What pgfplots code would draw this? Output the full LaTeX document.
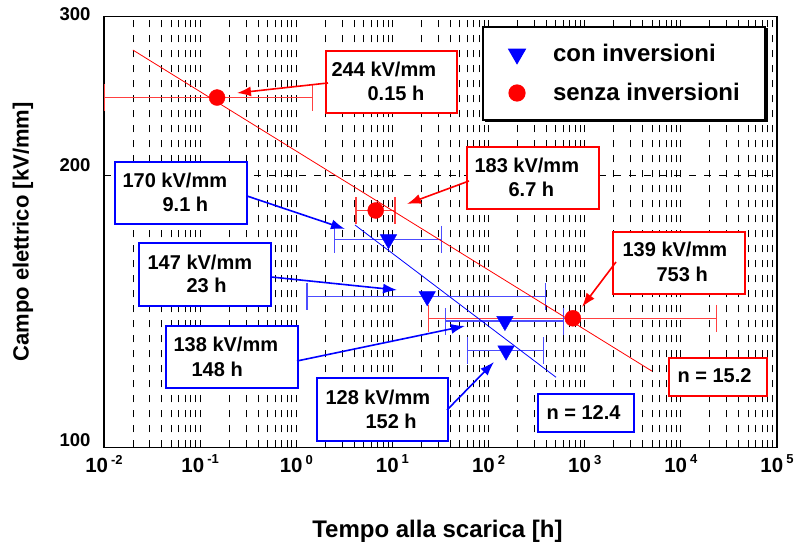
\documentclass[border=0pt]{standalone}
\usepackage{fontspec}
\setmainfont{Liberation Sans}
\usepackage{pgfplots}
\pgfplotsset{compat=1.18}
\usetikzlibrary{arrows.meta}
\newcommand{\boxfont}{\fontsize{20}{24}\selectfont\bfseries}
\newcommand{\legfont}{\fontsize{24}{28}\selectfont\bfseries}
\newcommand{\xtickfont}{\fontsize{20.5}{24}\selectfont\bfseries}
\newcommand{\ytickfont}{\fontsize{18.5}{22}\selectfont\bfseries}
\newcommand{\xlabfont}{\fontsize{24}{28}\selectfont\bfseries}
\newcommand{\ylabfont}{\fontsize{22}{26}\selectfont\bfseries}
\newcommand{\tl}[1]{10\hspace{3pt}\raisebox{8.5pt}{\fontsize{13}{15}\selectfont #1}}
\newcommand{\abox}[5]{\node[draw=#5, fill=white, line width=1.2pt, minimum width=#3, minimum height=#4, inner sep=0pt, anchor=center] (#1) at (rel axis cs:#2) {};}
\newcommand{\atext}[4]{\node[anchor=base west, inner sep=0pt, font=\boxfont] at ([xshift=#2, yshift=-#3]#1.north west) {#4};}
\newcommand{\aarrow}[3]{\draw[#1, line width=1.6pt, -{Latex[length=14pt,width=10pt]}] (rel axis cs:#2) -- (rel axis cs:#3);}
\begin{document}
\begin{tikzpicture}
\useasboundingbox (0,0) rectangle (795pt,542pt);
\begin{axis}[
  at={(104pt,94.5pt)}, anchor=south west,
  width=673pt, height=431pt, scale only axis,
  xmode=log, ymode=log,
  xmin=1e-2, xmax=1e5, ymin=100, ymax=300,
  xtick={1e-2,1e-1,1,10,100,1000,10000,100000},
  xticklabels={\tl{-2},\tl{-1},\tl{0},\tl{1},\tl{2},\tl{3},\tl{4},\tl{5}},
  minor xtick={0.02,0.03,0.04,0.05,0.06,0.07,0.08,0.09,
               0.2,0.3,0.4,0.5,0.6,0.7,0.8,0.9,
               2,3,4,5,6,7,8,9,
               20,30,40,50,60,70,80,90,
               200,300,400,500,600,700,800,900,
               2000,3000,4000,5000,6000,7000,8000,9000,
               20000,30000,40000,50000,60000,70000,80000,90000},
  ytick={100,200,300},
  yticklabels={\raisebox{14pt}{100},\raisebox{22pt}{200},\raisebox{5pt}{300}},
  yminorticks=false,
  xmajorgrids, xminorgrids, ymajorgrids,
  major grid style={black, line width=0.8pt, dash pattern=on 7pt off 8pt},
  minor grid style={black, line width=0.8pt, dash pattern=on 7pt off 8pt},
  axis line style={line width=1.5pt},
  tick style={black, line width=0.8pt},
  tick align=inside, tick pos=left,
  major tick length=6pt, minor tick length=4pt,
  xticklabel style={font=\xtickfont, yshift=-4pt},
  yticklabel style={font=\ytickfont, anchor=east, xshift=-10pt},
  xlabel={Tempo alla scarica [h]},
  ylabel={Campo elettrico [kV/mm]},
  xlabel style={font=\xlabfont, at={(axis description cs:0.4955,-0.2077)}, anchor=base},
  ylabel style={font=\ylabfont, at={(axis description cs:-0.1204,0.5)}, anchor=center},
  clip=false,
  legend style={at={(0.7727,0.8677)}, anchor=center, draw=black, line width=1.2pt,
    fill=white, inner xsep=0pt, inner ysep=7.5pt, row sep=0pt, column sep=0pt, font=\legfont,
    nodes={inner sep=0pt}, cells={anchor=west}},
  legend image code/.code={\path[draw=none,fill=none] (-34pt,-19.5pt) rectangle (36pt,19.5pt);
    \draw[#1] plot coordinates {(0pt,0pt)};},
]
% error bars, senza inversioni
\addplot[forget plot, only marks, mark=none,
  error bars/.cd, x dir=both, x explicit, error mark=|,
  error bar style={line width=1.3pt, color=red!75},
  error mark options={mark size=13.5pt, line width=1.3pt, color=red!75}]
  coordinates {
  (0.15,244) += (1.33,0) -= (0.1398,0)
  (6.7,183) += (3.9,0) -= (2.53,0)
  (753,139) += (22747,0) -= (729.1,0)
  };
% error bars, con inversioni
\addplot[forget plot, only marks, mark=none,
  error bars/.cd, x dir=both, x explicit, error mark=|,
  error bar style={line width=1.3pt, color=blue!70},
  error mark options={mark size=13.5pt, line width=1.3pt, color=blue!70}]
  coordinates {
  (9.1,170) += (23.5,0) -= (6.6,0)
  (23,147) += (370,0) -= (21.71,0)
  (148,138) += (456,0) -= (112.1,0)
  (152,128) += (223,0) -= (91.2,0)
  };
% fit lines
\addplot[forget plot, red, line width=0.8pt, mark=none] coordinates {(0.02,275.4) (5000,121.5)};
\addplot[forget plot, blue, line width=0.8pt, mark=none] coordinates {(4.08,176.3) (503,119.6)};
% markers
\addplot[only marks, mark=triangle*, mark size=9.5pt, mark options={rotate=180, fill=blue, draw=blue}, blue]
  coordinates {(9.1,170) (23,147) (148,138) (152,128)};
\addlegendentry{\makebox[212pt][l]{con inversioni}}
\addplot[only marks, mark=*, mark size=8pt, mark options={fill=red, draw=red}, red]
  coordinates {(0.15,244) (6.7,183) (753,139)};
\addlegendentry{\makebox[212pt][l]{senza inversioni}}
% legend shadow
\node[fill=black, draw=none, minimum width=283pt, minimum height=94pt, inner sep=0pt,
  anchor=center, xshift=2pt, yshift=-2pt] at (rel axis cs:0.7727,0.8677) {};
% annotation boxes
\abox{r1}{0.4272,0.8480}{131pt}{62pt}{red}
\atext{r1}{6pt}{26pt}{244 kV/mm}
\atext{r1}{42pt}{50pt}{0.15 h}
\aarrow{red}{0.3328,0.8457}{0.1976,0.8225}
\abox{r2}{0.6374,0.6253}{132pt}{62pt}{red}
\atext{r2}{8pt}{26pt}{183 kV/mm}
\atext{r2}{42pt}{50pt}{6.7 h}
\aarrow{red}{0.5423,0.6183}{0.4502,0.5650}
\abox{r3}{0.8544,0.4281}{132pt}{62pt}{red}
\atext{r3}{10pt}{25pt}{139 kV/mm}
\atext{r3}{44pt}{50pt}{753 h}
\aarrow{red}{0.7608,0.4304}{0.7103,0.3260}
\abox{r4}{0.9123,0.1636}{98pt}{38pt}{red}
\atext{r4}{9pt}{25pt}{n = 15.2}
\abox{b1}{0.1144,0.5905}{132pt}{62pt}{blue}
\atext{b1}{8pt}{26pt}{170 kV/mm}
\atext{b1}{48pt}{50pt}{9.1 h}
\aarrow{blue}{0.2125,0.5835}{0.3581,0.5070}
\abox{b2}{0.1501,0.4014}{132pt}{63pt}{blue}
\atext{b2}{9pt}{27pt}{147 kV/mm}
\atext{b2}{48pt}{50pt}{23 h}
\aarrow{blue}{0.2481,0.3956}{0.4354,0.3654}
\abox{b3}{0.1902,0.2100}{132pt}{62pt}{blue}
\atext{b3}{8pt}{26pt}{138 kV/mm}
\atext{b3}{26pt}{51pt}{148 h}
\aarrow{blue}{0.2868,0.2007}{0.5364,0.2819}
\abox{b4}{0.4138,0.0882}{131pt}{63pt}{blue}
\atext{b4}{9pt}{27pt}{128 kV/mm}
\atext{b4}{49pt}{51pt}{152 h}
\aarrow{blue}{0.5097,0.0870}{0.5795,0.1984}
\abox{b5}{0.7162,0.0800}{96pt}{38pt}{blue}
\atext{b5}{9pt}{26pt}{n = 12.4}
\end{axis}
\end{tikzpicture}
\end{document}
